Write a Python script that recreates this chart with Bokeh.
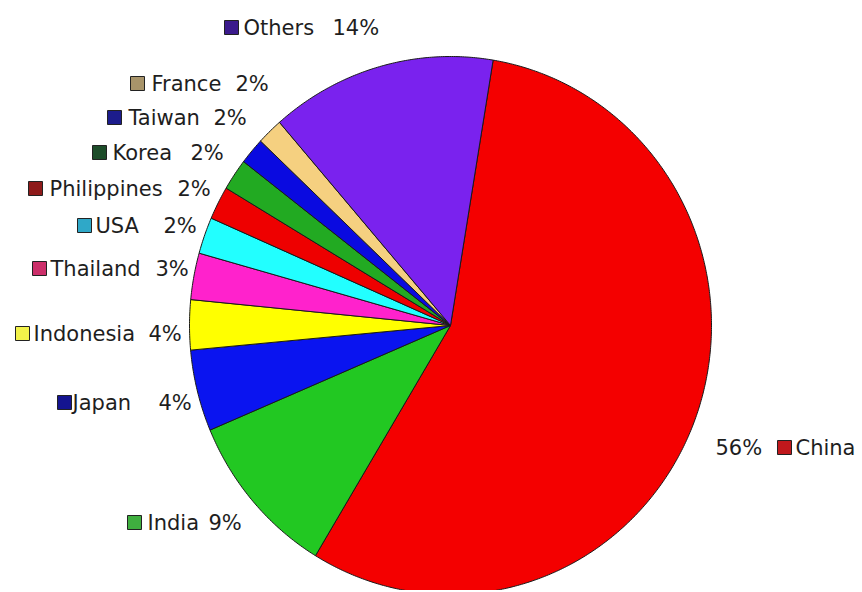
import numpy as np
from bokeh.plotting import figure
from bokeh.models import Range1d, ColumnDataSource
from bokeh.core.properties import value
from bokeh.embed import file_html
from bokeh.resources import INLINE

# ---- data ----
countries = ["China", "India", "Japan", "Indonesia", "Thailand", "USA",
             "Philippines", "Korea", "Taiwan", "France", "Others"]
shares = [56.1, 10.0, 4.9, 3.0, 2.8, 2.2, 2.0, 1.9, 1.6, 1.6, 14.0]
pct_labels = ["56%", "9%", "4%", "4%", "3%", "2%", "2%", "2%", "2%", "2%", "14%"]
slice_colors = ["#F40000", "#22C822", "#0A14F0", "#FFFF00", "#FF22CC", "#22FFFF",
                "#EE0000", "#22AA22", "#0A0AE0", "#F5D080", "#7A22EE"]
swatch_colors = ["#C0181C", "#3FAF3F", "#141490", "#F2F24A", "#CC2F6A", "#2FA8C8",
                 "#8E1A1A", "#1D4D2A", "#1C1C8C", "#A8946A", "#3B1A8C"]

# ---- layout (pixel positions in the picture) ----
W, H = 860, 590
CX, CY = 450, 325        # pie centre (page px)
RX, RY = 261, 269        # pie half-width / half-height (page px)
start_deg = 80.6         # first slice starts slightly right of top, clockwise

# data space: pie is a unit circle; the ranges stretch it to the page ellipse
x_range = Range1d(-CX / RX, (W - CX) / RX)
y_range = Range1d(-(H - CY) / RY, CY / RY)

def dx(x):
    return (np.asarray(x, dtype=float) - CX) / RX
def dy(y):
    return (CY - np.asarray(y, dtype=float)) / RY

name_x = [795, 147, 72, 33, 50, 95, 49, 112, 128, 151, 243]
label_y = [447, 522, 402, 333, 268, 225, 188, 152, 117, 83, 27]
pct_x = [715, 208, 158, 148, 155, 163, 177, 190, 213, 235, 332]
swatch_left = [777, 127, 57, 15, 32, 77, 28, 92, 107, 130, 224]

vals = np.array(shares, dtype=float)
frac = vals / vals.sum()
cum = np.concatenate([[0.0], np.cumsum(frac)])
a0 = np.radians(start_deg - cum[:-1] * 360.0)
a1 = np.radians(start_deg - cum[1:] * 360.0)

xs, ys = [], []
for s, e in zip(a0, a1):
    n = max(8, int(abs(e - s) * 120))
    t = np.linspace(s, e, n)
    xs.append(np.concatenate([[0.0], np.cos(t), [0.0]]))
    ys.append(np.concatenate([[0.0], np.sin(t), [0.0]]))

src = ColumnDataSource(dict(xs=xs, ys=ys, color=slice_colors, country=countries))

p = figure(width=W, height=H, x_range=x_range, y_range=y_range,
           output_backend="svg", toolbar_location=None, min_border=0,
           x_axis_location=None, y_axis_location=None)
p.grid.visible = False
p.outline_line_color = None
p.background_fill_color = "white"
p.border_fill_color = "white"

p.patches(xs="xs", ys="ys", fill_color="color", line_color="#1a1a1a",
          line_width=1, line_join="round", source=src)

# swatches
p.rect(x=dx(np.array(swatch_left) + 7), y=dy(label_y), width=14, height=14,
       width_units="screen", height_units="screen",
       fill_color=swatch_colors, line_color="#222222", line_width=1)

font = value("DejaVu Sans")
p.text(x=dx(name_x), y=dy(label_y), text=countries, text_font=font,
       text_font_size=value("21px"), text_baseline="middle", text_align="left",
       text_color="#1e1e1e")
p.text(x=dx(pct_x), y=dy(label_y), text=pct_labels, text_font=font,
       text_font_size=value("21px"), text_baseline="middle", text_align="left",
       text_color="#1e1e1e")

open("out.html", "w").write(file_html(p, INLINE))
